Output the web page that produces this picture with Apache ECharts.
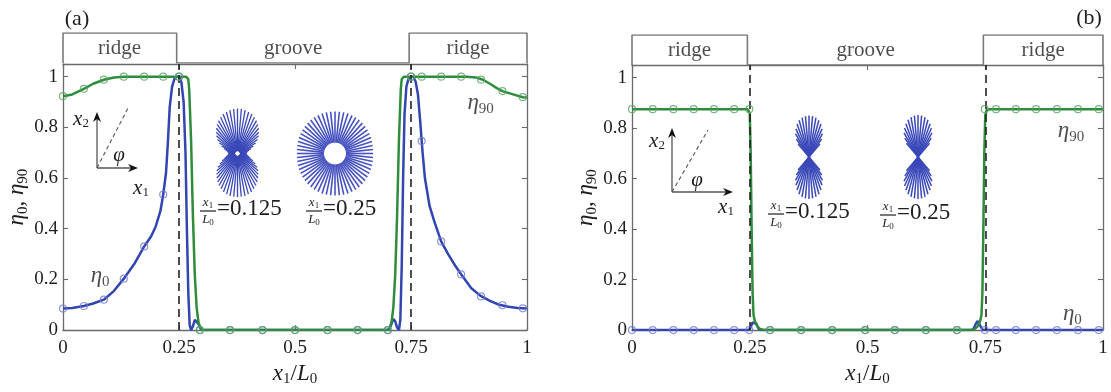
<!DOCTYPE html>
<html>
<head>
<meta charset="utf-8">
<script src="https://cdn.jsdelivr.net/npm/echarts@6/dist/echarts.min.js"></script>
<style>
  html, body { margin: 0; padding: 0; background: #fff; }
  #chart { width: 1111px; height: 392px; }
</style>
</head>
<body>
<div id="chart"></div>
<script>
// ---------- tick values and labels ----------
const xTicks = [0, 0.25, 0.5, 0.75, 1];
const xTickLabels = ['0', '0.25', '0.5', '0.75', '1'];
const yTicks = [0, 0.2, 0.4, 0.6, 0.8, 1];
const yTickLabels = ['0', '0.2', '0.4', '0.6', '0.8', '1'];

// ---------- surface profile (ridge / groove) ----------
const profileX = [0, 0, 0.245, 0.245, 0.746, 0.746, 1, 1];
const profileY = [0, 1, 1, 0, 0, 1, 1, 0];
const profileNames = ['ridge', 'groove', 'ridge'];
const profileNameX = [0.122, 0.496, 0.873];

// ---------- panel (a) ----------
const aEta0X = [0, 0.02, 0.045, 0.065, 0.088, 0.11, 0.131, 0.155, 0.175, 0.19, 0.2, 0.21, 0.216, 0.222, 0.226,
  0.23, 0.235, 0.24, 0.245, 0.25, 0.255, 0.26, 0.264, 0.267, 0.27, 0.273, 0.276, 0.28, 0.284, 0.288,
  0.292, 0.296, 0.3, 0.4, 0.5, 0.6, 0.7, 0.704, 0.708, 0.712, 0.716, 0.72, 0.724, 0.727, 0.73,
  0.733, 0.736, 0.74, 0.745, 0.75, 0.755, 0.76, 0.765, 0.77, 0.775, 0.78, 0.79, 0.8, 0.815, 0.83,
  0.845, 0.86, 0.88, 0.9, 0.92, 0.94, 0.96, 0.98, 1];
const aEta0Y = [0.085, 0.087, 0.095, 0.105, 0.12, 0.155, 0.203, 0.265, 0.33, 0.37, 0.41, 0.47, 0.535, 0.62, 0.74,
  0.88, 0.96, 0.99, 1.0, 1.0, 0.98, 0.9, 0.7, 0.4, 0.15, 0.02, 0, 0.015, 0.04, 0.042,
  0.025, 0.008, 0, 0, 0, 0, 0, 0.008, 0.025, 0.044, 0.035, 0.01, 0, 0.04, 0.25,
  0.6, 0.85, 0.96, 0.995, 1.0, 1.0, 0.98, 0.93, 0.82, 0.7, 0.6, 0.49, 0.43, 0.35, 0.3,
  0.255, 0.215, 0.165, 0.135, 0.115, 0.1, 0.092, 0.087, 0.085];

const aEta90X = [0, 0.02, 0.045, 0.065, 0.088, 0.11, 0.131, 0.2, 0.265, 0.27, 0.272, 0.276, 0.28, 0.284, 0.288,
  0.292, 0.296, 0.3, 0.4, 0.5, 0.6, 0.7, 0.704, 0.708, 0.712, 0.716, 0.72, 0.724, 0.728, 0.73,
  0.735, 0.8, 0.87, 0.89, 0.905, 0.92, 0.935, 0.947, 0.97, 0.991, 1];
const aEta90Y = [0.923, 0.93, 0.952, 0.972, 0.988, 0.997, 1, 1, 1, 0.99, 0.95, 0.75, 0.45, 0.22, 0.09,
  0.03, 0.008, 0, 0, 0, 0, 0, 0.008, 0.03, 0.09, 0.22, 0.45, 0.75, 0.95, 0.99,
  1, 1, 1, 0.997, 0.988, 0.972, 0.955, 0.943, 0.93, 0.919, 0.918];

const aMarkX = [0, 0.045, 0.088, 0.131, 0.175, 0.216, 0.25, 0.295, 0.36, 0.43, 0.5, 0.57, 0.635, 0.7,
  0.75, 0.773, 0.815, 0.858, 0.901, 0.947, 0.991];
const aEta0Mark = [0.085, 0.095, 0.12, 0.203, 0.33, 0.535, 1, 0, 0, 0, 0, 0, 0, 0,
  1, 0.746, 0.35, 0.22, 0.133, 0.098, 0.086];
const aEta90Mark = [0.923, 0.952, 0.988, 1, 1, 1, 1, 0, 0, 0, 0, 0, 0, 0,
  1, 1, 1, 1, 0.988, 0.943, 0.919];

// ---------- panel (b) ----------
const bEta0X = [0, 0.248, 0.252, 0.256, 0.26, 0.264, 0.268, 0.272, 0.5, 0.722, 0.726, 0.73, 0.734, 0.738, 0.741, 0.745, 1];
const bEta0Y = [0, 0, 0.012, 0.03, 0.036, 0.025, 0.008, 0, 0, 0, 0.008, 0.025, 0.036, 0.03, 0.012, 0, 0];

const bEta90X = [0, 0.245, 0.25, 0.252, 0.254, 0.256, 0.258, 0.261, 0.266, 0.272, 0.28, 0.5, 0.72, 0.728, 0.734,
  0.739, 0.742, 0.744, 0.746, 0.748, 0.75, 0.753, 0.76, 1];
const bEta90Y = [0.875, 0.875, 0.86, 0.7, 0.4, 0.15, 0.06, 0.035, 0.015, 0.005, 0, 0, 0, 0.005, 0.015,
  0.035, 0.06, 0.15, 0.4, 0.7, 0.85, 0.872, 0.875, 0.875];

const bMarkX = [0, 0.044, 0.088, 0.131, 0.174, 0.217, 0.249, 0.293, 0.359, 0.425, 0.495, 0.558, 0.624, 0.69,
  0.749, 0.773, 0.815, 0.858, 0.902, 0.947, 0.991];
const bEta0Mark = [0, 0, 0, 0, 0, 0, 0, 0, 0, 0, 0, 0, 0, 0, 0, 0, 0, 0, 0, 0, 0];
const bEta90Mark = [0.875, 0.875, 0.875, 0.875, 0.875, 0.875, 0.875, 0, 0, 0, 0, 0, 0, 0,
  0.875, 0.875, 0.875, 0.875, 0.875, 0.875, 0.875];

// interface positions (dashed lines)
const interfaces = [0.25, 0.75];

// ---------- orientation glyphs (angle in degrees, line length in px) ----------
const glyphA1Angle = [0, 5, 10, 15, 20, 25, 30, 35, 40, 45, 50, 55, 60, 65, 70, 75, 80, 85,
  90, 95, 100, 105, 110, 115, 120, 125, 130, 135, 140, 145, 150, 155, 160, 165, 170, 175,
  180, 185, 190, 195, 200, 205, 210, 215, 220, 225, 230, 235, 240, 245, 250, 255, 260, 265,
  270, 275, 280, 285, 290, 295, 300, 305, 310, 315, 320, 325, 330, 335, 340, 345, 350, 355];
const glyphA1Len = [9, 9.5, 10.5, 12, 14.5, 17.5, 21, 24.5, 27.5, 30, 33, 35.5, 38, 40, 42, 43, 44, 44.7,
  45, 44.7, 44, 43, 42, 40, 38, 35.5, 33, 30, 27.5, 24.5, 21, 17.5, 14.5, 12, 10.5, 9.5,
  9, 9.5, 10.5, 12, 14, 17, 20.5, 24, 27, 29.5, 32, 34.5, 37, 39, 41, 42, 43, 43.3,
  43.5, 43.3, 43, 42, 41, 39, 37, 34.5, 32, 29.5, 27, 24, 20.5, 17, 14, 12, 10.5, 9.5];
const glyphA1Inner = 2.5;

const glyphA2Angle = [0, 6, 12, 18, 24, 30, 36, 42, 48, 54, 60, 66, 72, 78, 84, 90, 96, 102, 108, 114,
  120, 126, 132, 138, 144, 150, 156, 162, 168, 174, 180, 186, 192, 198, 204, 210, 216, 222, 228, 234,
  240, 246, 252, 258, 264, 270, 276, 282, 288, 294, 300, 306, 312, 318, 324, 330, 336, 342, 348, 354];
const glyphA2Len = [38, 38.2, 38.5, 38.9, 39.3, 39.7, 40.1, 40.5, 40.9, 41.3, 41.6, 41.8, 42, 42, 42, 42, 42, 42, 42, 41.8,
  41.6, 41.3, 40.9, 40.5, 40.1, 39.7, 39.3, 38.9, 38.5, 38.2, 38, 38.2, 38.5, 38.9, 39.3, 39.7, 40.1, 40.5, 40.9, 41.3,
  41.6, 41.8, 42, 42, 42, 42, 42, 42, 42, 41.8, 41.6, 41.3, 40.9, 40.5, 40.1, 39.7, 39.3, 38.9, 38.5, 38.2];
const glyphA2Inner = 11;

const glyphBAngle = [50, 55, 60, 65, 70, 75, 80, 85, 90, 95, 100, 105, 110, 115, 120, 125, 130,
  230, 235, 240, 245, 250, 255, 260, 265, 270, 275, 280, 285, 290, 295, 300, 305, 310];
const glyphB1Len = [17, 22, 27, 31, 35, 38, 40, 41, 41.5, 41, 40, 38, 35, 31, 27, 22, 17,
  17, 22, 27, 31, 35, 38.5, 40.5, 41.5, 42, 41.5, 40.5, 38.5, 35, 31, 27, 22, 17];
const glyphB2Len = [18, 23, 28, 32, 35.5, 38.5, 40.5, 41.5, 42, 41.5, 40.5, 38.5, 35.5, 32, 28, 23, 18,
  18, 23, 28, 32, 35.5, 38.5, 40.5, 41.5, 42, 41.5, 40.5, 38.5, 35.5, 32, 28, 23, 18];
const glyphBInner = 0.5;

// ---------- styling ----------
const SERIF = "'Liberation Serif','DejaVu Serif',serif";
const INK = '#1e1e1e';
const AXIS = '#6b6b6b';
const BLUE = '#3245b0';
const GREEN = '#2e8c3c';
const BLUE_MK = '#7079cf';
const GREEN_MK = '#55a462';
const GLYPH = '#3a48b8';

const mathRich = {
  e: { fontFamily: SERIF, fontStyle: 'italic', fontSize: 23, color: INK },
  s: { fontFamily: SERIF, fontSize: 15, color: INK, padding: [12, 0, 0, 0] },
  c: { fontFamily: SERIF, fontSize: 23, color: INK }
};

const pairs = (xs, ys) => xs.map((x, i) => [x, ys[i]]);
const near = (a, b) => Math.abs(a - b) < 1e-6;
const xFmt = v => { const i = xTicks.findIndex(t => near(t, v)); return i < 0 ? '' : xTickLabels[i]; };
const yFmt = v => { const i = yTicks.findIndex(t => near(t, v)); return i < 0 ? '' : yTickLabels[i]; };

const axisLine = { show: true, onZero: false, lineStyle: { color: AXIS, width: 1.3 } };
const axisTick = { show: true, inside: true, length: 5, lineStyle: { color: AXIS, width: 1.1 } };

function mainXAxes(grid) {
  return [
    {
      gridIndex: grid, type: 'value', min: 0, max: 1, interval: 0.25, position: 'bottom',
      axisLine, axisTick, splitLine: { show: false },
      axisLabel: { margin: 8, fontFamily: SERIF, fontSize: 19, color: INK, formatter: xFmt },
      name: '{e|x}{s|1}{c|/}{e|L}{s|0}', nameLocation: 'middle', nameGap: 24,
      nameTextStyle: { rich: mathRich }
    },
    {
      gridIndex: grid, type: 'value', min: 0, max: 1, interval: 0.25, position: 'top',
      axisLine, axisTick, splitLine: { show: false }, axisLabel: { show: false }
    }
  ];
}
function mainYAxes(grid, gap) {
  return [
    {
      gridIndex: grid, type: 'value', min: 0, max: 1.05, interval: 0.2, position: 'left',
      axisLine, axisTick, splitLine: { show: false },
      axisLabel: { margin: 5, fontFamily: SERIF, fontSize: 19, color: INK, formatter: yFmt },
      name: '{e|η}{s|0}{c|, }{e|η}{s|90}', nameLocation: 'middle', nameRotate: 90, nameGap: gap,
      nameTextStyle: { rich: mathRich }
    },
    {
      gridIndex: grid, type: 'value', min: 0, max: 1.05, interval: 0.2, position: 'right',
      axisLine, axisTick, splitLine: { show: false }, axisLabel: { show: false }
    }
  ];
}
const hiddenAxis = grid => ({ gridIndex: grid, type: 'value', min: 0, max: 1, show: false });

function panelSeries(xi, yi, pxi, pyi, d) {
  return [
    {
      type: 'line', xAxisIndex: pxi, yAxisIndex: pyi, data: pairs(profileX, profileY),
      symbol: 'none', lineStyle: { color: '#7a7a7a', width: 1.6 }, silent: true
    },
    {
      type: 'scatter', xAxisIndex: pxi, yAxisIndex: pyi, symbolSize: 0,
      data: profileNames.map((n, i) => [profileNameX[i], 0.5, n]),
      label: { show: true, position: 'inside', formatter: p => p.data[2], fontFamily: SERIF, fontSize: 21, color: INK }
    },
    {
      type: 'line', xAxisIndex: xi, yAxisIndex: yi, data: pairs(d.eta0X, d.eta0Y),
      symbol: 'none', lineStyle: { color: BLUE, width: 2.5 }, z: 3
    },
    {
      type: 'line', xAxisIndex: xi, yAxisIndex: yi, data: pairs(d.eta90X, d.eta90Y),
      symbol: 'none', lineStyle: { color: GREEN, width: 2.5 }, z: 4,
      markLine: {
        silent: true, symbol: 'none', label: { show: false },
        lineStyle: { color: '#222', width: 1.6, type: [8, 5] },
        data: interfaces.map(v => ({ xAxis: v }))
      }
    },
    {
      type: 'scatter', xAxisIndex: xi, yAxisIndex: yi, data: pairs(d.markX, d.eta0Mark),
      symbol: 'circle', symbolSize: 7, z: 5,
      itemStyle: { color: 'rgba(255,255,255,0)', borderColor: BLUE_MK, borderWidth: 1.2 }
    },
    {
      type: 'scatter', xAxisIndex: xi, yAxisIndex: yi, data: pairs(d.markX, d.eta90Mark),
      symbol: 'circle', symbolSize: 7, z: 6,
      itemStyle: { color: 'rgba(255,255,255,0)', borderColor: GREEN_MK, borderWidth: 1.2 }
    },
    {
      type: 'scatter', xAxisIndex: xi, yAxisIndex: yi, symbolSize: 0, z: 7,
      data: d.names.map(n => [n[0], n[1], n[2]]),
      label: { show: true, position: 'inside', formatter: p => p.data[2], rich: mathRich }
    }
  ];
}

function glyphSeries(polarIndex, angles, lens, inner, color, width) {
  return {
    type: 'custom', coordinateSystem: 'polar', polarIndex, silent: true,
    data: angles.map((a, i) => [lens[i], a]),
    renderItem: (params, api) => {
      const a = api.value(1);
      const p0 = api.coord([inner, a]);
      const p1 = api.coord([api.value(0), a]);
      return {
        type: 'line', shape: { x1: p0[0], y1: p0[1], x2: p1[0], y2: p1[1] },
        style: { stroke: color, lineWidth: width }
      };
    }
  };
}

// small graphic helpers for the in-plot sketches
function coordSketch(ox, oy, topY, endX, dx, dy, x2c, phic, x1c) {
  const stroke = '#555';
  const small = {
    i: { fontFamily: SERIF, fontStyle: 'italic', fontSize: 21, fill: INK },
    s: { fontFamily: SERIF, fontSize: 13, fill: INK, padding: [10, 0, 0, 0] }
  };
  return [
    { type: 'line', shape: { x1: ox, y1: oy, x2: ox, y2: topY + 4 }, style: { stroke, lineWidth: 1.3 } },
    { type: 'polygon', shape: { points: [[ox, topY], [ox - 4, topY + 10], [ox, topY + 7], [ox + 4, topY + 10]] }, style: { fill: '#111' } },
    { type: 'line', shape: { x1: ox, y1: oy, x2: endX - 4, y2: oy }, style: { stroke, lineWidth: 1.3 } },
    { type: 'polygon', shape: { points: [[endX, oy], [endX - 10, oy - 4], [endX - 7, oy], [endX - 10, oy + 4]] }, style: { fill: '#111' } },
    { type: 'line', shape: { x1: ox, y1: oy, x2: dx, y2: dy }, style: { stroke, lineWidth: 1.1, lineDash: [4, 3] } },
    { type: 'text', x: x2c[0], y: x2c[1], style: { text: '{i|x}{s|2}', rich: small, align: 'center', verticalAlign: 'middle' } },
    { type: 'text', x: phic[0], y: phic[1], style: { text: 'φ', font: 'italic 21px ' + SERIF, fill: INK, align: 'center', verticalAlign: 'middle' } },
    { type: 'text', x: x1c[0], y: x1c[1], style: { text: '{i|x}{s|1}', rich: small, align: 'center', verticalAlign: 'middle' } }
  ];
}

function fraction(x, y, value) {
  const tiny = {
    i: { fontFamily: SERIF, fontStyle: 'italic', fontSize: 13, fill: INK },
    s: { fontFamily: SERIF, fontSize: 9, fill: INK, padding: [6, 0, 0, 0] }
  };
  return [
    { type: 'text', x: x + 8, y: y - 0.5, style: { text: '{i|x}{s|1}', rich: tiny, align: 'center', verticalAlign: 'bottom' } },
    { type: 'rect', shape: { x: x, y: y - 0.6, width: 16, height: 1.2 }, style: { fill: INK } },
    { type: 'text', x: x + 8, y: y + 1, style: { text: '{i|L}{s|0}', rich: tiny, align: 'center', verticalAlign: 'top' } },
    { type: 'text', x: x + 17, y: y - 2, style: { text: '=' + value, font: '23px ' + SERIF, fill: INK, align: 'left', verticalAlign: 'middle' } }
  ];
}

const panelA = {
  eta0X: aEta0X, eta0Y: aEta0Y, eta90X: aEta90X, eta90Y: aEta90Y,
  markX: aMarkX, eta0Mark: aEta0Mark, eta90Mark: aEta90Mark,
  names: [[0.08, 0.215, '{e|η}{s|0}'], [0.9, 0.895, '{e|η}{s|90}']]
};
const panelB = {
  eta0X: bEta0X, eta0Y: bEta0Y, eta90X: bEta90X, eta90Y: bEta90Y,
  markX: bMarkX, eta0Mark: bEta0Mark, eta90Mark: bEta90Mark,
  names: [[0.932, 0.79, '{e|η}{s|90}'], [0.935, 0.065, '{e|η}{s|0}']]
};

const chart = echarts.init(document.getElementById('chart'), null, { renderer: 'canvas' });

const polarAxisR = i => ({ polarIndex: i, type: 'value', min: 0, max: 50, show: false });
const polarAxisA = i => ({ polarIndex: i, type: 'value', min: 0, max: 360, startAngle: 0, clockwise: false, show: false });

chart.setOption({
  animation: false,
  backgroundColor: '#fff',
  grid: [
    { left: 63, top: 64, width: 464, height: 269 },
    { left: 63, top: 33, width: 464, height: 30 },
    { left: 632, top: 65, width: 471, height: 274 },
    { left: 632, top: 35, width: 471, height: 30 }
  ],
  xAxis: [...mainXAxes(0), hiddenAxis(1), ...mainXAxes(2), hiddenAxis(3)],
  yAxis: [...mainYAxes(0, 30), hiddenAxis(1), ...mainYAxes(2, 30), hiddenAxis(3)],
  polar: [
    { center: [237.5, 153.5], radius: 50 },
    { center: [335, 153.5], radius: 50 },
    { center: [809, 157], radius: 50 },
    { center: [918, 157], radius: 50 }
  ],
  radiusAxis: [polarAxisR(0), polarAxisR(1), polarAxisR(2), polarAxisR(3)],
  angleAxis: [polarAxisA(0), polarAxisA(1), polarAxisA(2), polarAxisA(3)],
  series: [
    ...panelSeries(0, 0, 2, 2, panelA),
    ...panelSeries(3, 3, 5, 5, panelB),
    glyphSeries(0, glyphA1Angle, glyphA1Len, glyphA1Inner, GLYPH, 1.3),
    glyphSeries(1, glyphA2Angle, glyphA2Len, glyphA2Inner, '#4652bf', 1.6),
    glyphSeries(2, glyphBAngle, glyphB1Len, glyphBInner, GLYPH, 1.5),
    glyphSeries(3, glyphBAngle, glyphB2Len, glyphBInner, GLYPH, 1.5)
  ],
  graphic: [
    { type: 'text', x: 77, y: 19, style: { text: '(a)', font: '22px ' + SERIF, fill: INK, align: 'center', verticalAlign: 'middle' } },
    { type: 'text', x: 1089, y: 18, style: { text: '(b)', font: '22px ' + SERIF, fill: INK, align: 'center', verticalAlign: 'middle' } },
    ...coordSketch(97, 168, 112, 138, 128, 108, [81, 119], [119, 155], [141, 188]),
    ...coordSketch(672, 192, 128, 733, 708, 130, [657, 141], [697, 180], [726, 207]),
    ...fraction(200, 211, '0.125'),
    ...fraction(306, 211, '0.25'),
    ...fraction(768, 214, '0.125'),
    ...fraction(880, 215, '0.25')
  ]
});
</script>
</body>
</html>
